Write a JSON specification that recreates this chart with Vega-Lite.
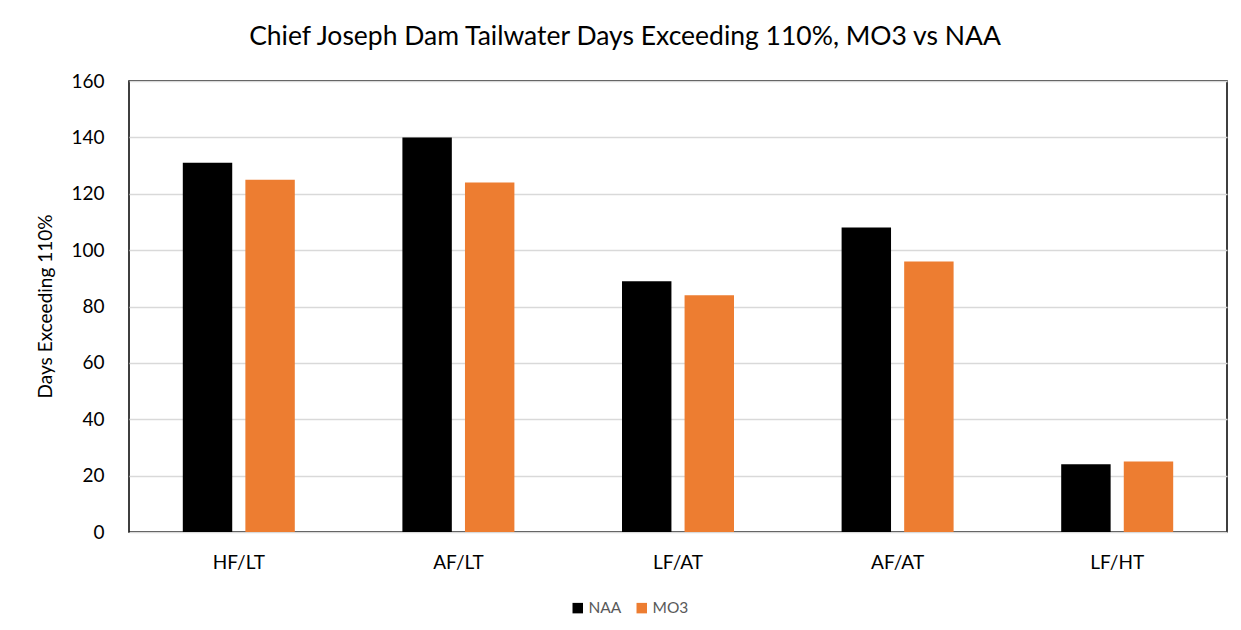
{
  "$schema": "https://vega.github.io/schema/vega-lite/v6.json",
  "width": 1098,
  "height": 451,
  "autosize": {"type": "none"},
  "padding": {"left": 129, "top": 81, "right": 14, "bottom": 98},
  "background": "#ffffff",
  "title": {
    "text": "Chief Joseph Dam Tailwater Days Exceeding 110%, MO3 vs NAA",
    "font": "Lato",
    "fontSize": 26.5,
    "fontWeight": "normal",
    "color": "#000000",
    "anchor": "middle",
    "dx": -53,
    "offset": 22
  },
  "data": {
    "values": [
      {"scenario": "HF/LT", "series": "NAA", "days": 131},
      {"scenario": "HF/LT", "series": "MO3", "days": 125},
      {"scenario": "AF/LT", "series": "NAA", "days": 140},
      {"scenario": "AF/LT", "series": "MO3", "days": 124},
      {"scenario": "LF/AT", "series": "NAA", "days": 89},
      {"scenario": "LF/AT", "series": "MO3", "days": 84},
      {"scenario": "AF/AT", "series": "NAA", "days": 108},
      {"scenario": "AF/AT", "series": "MO3", "days": 96},
      {"scenario": "LF/HT", "series": "NAA", "days": 24},
      {"scenario": "LF/HT", "series": "MO3", "days": 25}
    ]
  },
  "mark": {"type": "bar"},
  "encoding": {
    "x": {
      "field": "scenario",
      "type": "nominal",
      "sort": ["HF/LT", "AF/LT", "LF/AT", "AF/AT", "LF/HT"],
      "scale": {"paddingInner": 0.49, "paddingOuter": 0.245},
      "axis": {
        "title": null,
        "labelAngle": 0,
        "labelFont": "Lato",
        "labelFontSize": 19,
        "labelColor": "#000000",
        "labelPadding": 21,
        "domain": false,
        "ticks": false
      }
    },
    "xOffset": {
      "field": "series",
      "type": "nominal",
      "sort": ["NAA", "MO3"],
      "scale": {"paddingInner": 0.21, "paddingOuter": 0}
    },
    "y": {
      "field": "days",
      "type": "quantitative",
      "scale": {"domain": [0, 160], "nice": false},
      "axis": {
        "values": [0, 20, 40, 60, 80, 100, 120, 140, 160],
        "title": "Days Exceeding 110%",
        "titleFont": "Lato",
        "titleFontSize": 19,
        "titleFontWeight": "normal",
        "titleColor": "#000000",
        "titleX": -84,
        "titleY": 225,
        "titleAngle": -90,
        "titleBaseline": "middle",
        "titleAlign": "center",
        "labelFont": "Lato",
        "labelFontSize": 19,
        "labelColor": "#000000",
        "labelPadding": 25,
        "domain": false,
        "ticks": false,
        "grid": true,
        "gridColor": "#d9d9d9",
        "gridWidth": 1.3
      }
    },
    "color": {
      "field": "series",
      "type": "nominal",
      "sort": ["NAA", "MO3"],
      "scale": {"domain": ["NAA", "MO3"], "range": ["#000000", "#ed7d31"]},
      "legend": {
        "title": null,
        "orient": "none",
        "legendX": 441,
        "legendY": 519,
        "direction": "horizontal",
        "symbolType": "square",
        "symbolSize": 110,
        "symbolStrokeWidth": 0,
        "labelFont": "Lato",
        "labelFontSize": 15.5,
        "labelColor": "#595959",
        "columnPadding": 12,
        "labelOffset": 3
      }
    }
  },
  "config": {
    "view": {"stroke": "#000000", "strokeWidth": 1.5}
  }
}
